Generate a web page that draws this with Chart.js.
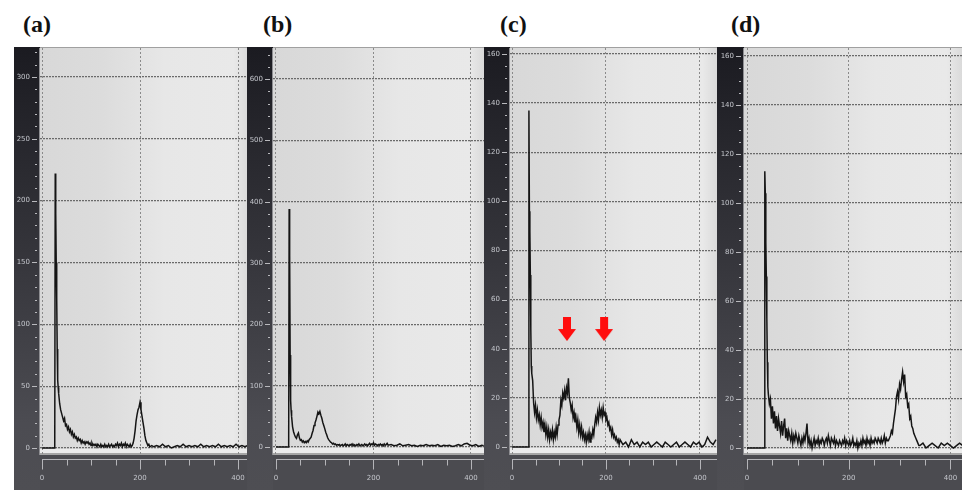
<!DOCTYPE html>
<html><head><meta charset="utf-8">
<script src="https://cdn.jsdelivr.net/npm/chart.js@4/dist/chart.umd.min.js"></script>
<style>
html,body{margin:0;padding:0;background:#fff;width:962px;height:490px;overflow:hidden;position:relative}
.panel{position:absolute;top:47px;height:443px}
.panel canvas{display:block}
.title{position:absolute;top:12px;font:bold 24px "Liberation Serif",serif;color:#111;line-height:25px}
</style></head><body>
<div class="title" style="left:23px">(a)</div>
<div class="title" style="left:263px">(b)</div>
<div class="title" style="left:500px">(c)</div>
<div class="title" style="left:731px">(d)</div>
<div class="panel" style="left:14px;width:234px"><canvas id="ca" width="234" height="443"></canvas></div>
<div class="panel" style="left:247px;width:237px"><canvas id="cb" width="237" height="443"></canvas></div>
<div class="panel" style="left:484px;width:233px"><canvas id="cc" width="233" height="443"></canvas></div>
<div class="panel" style="left:717px;width:245px"><canvas id="cd" width="245" height="443"></canvas></div>
<script>
// ---- data ----
const xTicks = [0, 200, 400];
const xMinorTicks = [0, 50, 100, 150, 200, 250, 300, 350, 400];

const yTicksA = [0, 50, 100, 150, 200, 250, 300];
const yTicksB = [0, 100, 200, 300, 400, 500, 600];
const yTicksC = [0, 20, 40, 60, 80, 100, 120, 140, 160];
const yTicksD = [0, 20, 40, 60, 80, 100, 120, 140, 160];

const xsA = [0,26,27,28,29,30,31,32,33,34,
  36,38,40,42,44,46,48,50,52,54,
  56,58,60,62,64,66,68,70,72,74,
  76,78,80,82,84,86,88,90,92,94,
  96,98,100,102,104,106,108,110,112,114,
  116,118,120,122,124,126,128,130,132,134,
  136,138,140,142,144,146,148,150,152,154,
  156,158,160,162,164,166,168,170,172,174,
  176,178,180,182,184,186,188,190,192,194,
  196,198,200,202,204,206,208,210,212,214,
  216,218,220,224,228,234,240,246,252,258,
  264,270,276,282,288,294,300,306,312,318,
  324,330,336,342,348,354,360,366,372,378,
  384,390,396,402,408,414,420];
const ysA = [0,0,222,190,150,121,80,55,49,44,
  36,31,28,25,22,24,18,19,15,17,
  13,15,11,13,9,11,8,9,6,8,
  6,7,4,6,4,5,3,5,4,5,
  3,4,2,4,2,3,2,3,1,3,
  2,1,3,1,2,1,3,1,2,1,
  3,1,2,3,1,2,1,3,2,4,
  1,3,2,4,1,3,2,4,1,3,
  2,1,3,1,2,4,8,14,22,27,
  31,33,37,31,26,21,16,10,6,4,
  2,3,1,2,1,2,1,3,1,2,
  0,1,2,1,3,1,2,1,2,1,
  3,1,2,1,2,1,3,1,2,1,
  2,1,3,1,2,1,2];

const xsB = [0,26,27,28,29,30,31,32,34,36,
  38,40,42,44,46,48,50,52,54,56,
  58,60,62,64,66,68,70,72,74,76,
  78,80,82,84,86,88,90,92,94,96,
  98,100,102,104,106,108,110,112,114,116,
  118,120,122,124,126,128,130,132,134,136,
  138,140,142,144,146,148,150,152,154,156,
  158,160,162,164,166,168,170,172,174,176,
  178,180,182,184,186,188,190,192,194,196,
  198,200,202,204,206,208,210,212,214,216,
  218,220,222,224,226,228,230,236,242,248,
  254,260,266,272,278,284,290,296,302,308,
  314,320,326,332,338,344,350,356,362,368,
  374,380,386,392,398,404,410,416,422,426];
const ysB = [0,0,388,313,150,76,60,50,33,25,
  20,16,14,20,23,15,11,12,8,10,
  7,9,7,10,8,12,14,16,22,27,
  35,39,44,50,57,54,58,52,47,40,
  35,30,24,20,15,12,10,8,7,5,
  6,4,5,3,4,3,4,2,3,4,
  2,3,5,2,4,3,2,4,3,5,
  2,4,3,2,4,3,5,2,3,4,
  2,3,5,3,4,2,4,6,3,5,
  4,7,3,5,4,2,4,3,5,3,
  4,2,5,3,4,6,3,4,2,3,
  5,2,3,4,2,3,1,3,2,4,
  2,3,2,4,1,3,2,3,1,2,
  4,2,5,6,3,2,4,1,3,2];

const xsC = [0,35,36,37,38,39,40,41,42,44,
  46,48,50,52,54,56,58,60,62,64,
  66,68,70,72,74,76,78,80,82,84,
  86,88,90,92,94,96,98,100,102,104,
  106,108,110,112,114,116,118,120,122,124,
  126,128,130,132,134,136,138,140,142,144,
  146,148,150,152,154,156,158,160,162,164,
  166,168,170,172,174,176,178,180,182,184,
  186,188,190,192,194,196,198,200,202,204,
  206,208,210,212,214,216,218,220,222,224,
  226,228,230,236,242,248,254,260,266,272,
  278,284,290,296,302,308,314,320,326,332,
  338,344,350,356,362,368,374,380,386,392,
  398,404,410,416,422,428,434];
const ysC = [0,0,137,96,88,70,48,33,30,27,
  18,14,17,12,15,11,13,9,12,8,
  10,6,9,5,8,4,7,3,6,4,
  7,3,6,4,8,5,9,11,13,19,
  17,22,20,23,19,24,22,28,20,18,
  15,17,12,14,10,12,8,11,6,9,
  5,8,4,6,3,5,2,5,3,6,
  2,5,4,7,5,9,12,10,14,11,
  16,13,15,12,16,13,14,11,12,9,
  10,7,8,5,7,4,5,3,4,2,
  3,1,3,1,2,0,3,1,2,0,
  2,1,2,0,1,2,1,0,2,1,
  0,1,2,0,1,2,1,0,2,1,
  2,0,1,4,2,1,3];

const xsD = [0,34,35,36,37,38,39,40,41,42,
  44,46,48,50,52,54,56,58,60,62,
  64,66,68,70,72,74,76,78,80,82,
  84,86,88,90,92,94,96,98,100,102,
  104,106,108,110,112,114,116,118,120,122,
  124,126,128,130,132,134,136,138,140,142,
  144,146,148,150,152,154,156,158,160,162,
  164,166,168,170,172,174,176,178,180,182,
  184,186,188,190,192,194,196,198,200,202,
  204,206,208,210,212,214,216,218,220,222,
  224,226,228,230,232,234,236,238,240,242,
  244,246,248,250,252,254,256,258,260,262,
  264,266,268,270,272,274,276,278,280,282,
  284,286,288,290,292,294,296,298,300,302,
  304,306,308,310,312,314,316,318,320,322,
  324,326,328,330,332,334,336,338,340,346,
  352,358,364,370,376,382,388,394,400,406,
  412,418,424];
const ysD = [0,0,113,104,84,70,53,35,25,22,
  18,20,12,17,10,15,8,13,7,12,
  9,6,11,5,9,12,4,8,3,7,
  5,3,6,2,5,3,6,4,2,5,
  3,1,4,2,5,3,6,10,2,4,
  1,3,0,2,4,1,3,2,4,1,
  3,2,4,3,1,3,4,2,5,3,
  1,4,3,2,4,1,3,2,1,3,
  2,1,3,2,4,1,3,2,1,3,
  1,2,4,1,2,1,3,0,2,1,
  3,1,4,2,3,1,4,2,3,1,
  4,2,3,2,4,3,2,4,3,2,
  4,2,3,5,2,4,3,3,4,5,
  7,6,10,13,16,21,23,20,26,24,
  28,31,27,30,21,22,17,18,12,13,
  9,8,6,5,4,3,2,1,1,2,
  0,1,2,1,0,2,1,2,1,0,
  1,2,1];

// red arrows in panel (c)
const arrowX = [117, 196];
const arrowY = [48, 48];

// ---- drawing ----
const arrowImg = document.createElement('canvas');
arrowImg.width = 18; arrowImg.height = 24;
(function(){
  const g = arrowImg.getContext('2d');
  g.fillStyle = '#ff0d0d';
  g.fillRect(5, 0, 8, 13);
  g.beginPath(); g.moveTo(0, 12); g.lineTo(18, 12); g.lineTo(9, 24); g.closePath(); g.fill();
})();

const decor = {
  id: 'decor',
  beforeDraw(chart, args, o) {
    const ctx = chart.ctx, ca = chart.chartArea, W = chart.width, H = chart.height;
    const ys = chart.scales.y;
    ctx.save();
    let g = ctx.createLinearGradient(0, 0, 0, H);
    g.addColorStop(0, '#1b1b21'); g.addColorStop(0.45, '#34343a'); g.addColorStop(0.85, '#4c4c52'); g.addColorStop(1, '#4e4e53');
    ctx.fillStyle = g; ctx.fillRect(0, 0, ca.left, H);
    ctx.fillStyle = '#4b4b50'; ctx.fillRect(ca.left, ca.bottom, W - ca.left, H - ca.bottom);
    g = ctx.createLinearGradient(ca.left, 0, ca.right, 0);
    g.addColorStop(0, '#d8d8d8'); g.addColorStop(0.3, '#dcdcdc'); g.addColorStop(0.6, '#e7e7e7');
    g.addColorStop(0.93, '#e9e9e9'); g.addColorStop(1, '#dadada');
    ctx.fillStyle = g; ctx.fillRect(ca.left, ca.top, ca.right - ca.left, ca.bottom - ca.top);
    const y0 = ys.getPixelForValue(0);
    ctx.fillStyle = '#ececec'; ctx.fillRect(ca.left, y0 + 1, ca.right - ca.left, ca.bottom - y0 - 3);
    ctx.fillStyle = '#a6a6a6'; ctx.fillRect(ca.left, ca.bottom - 2, ca.right - ca.left, 2);
    ctx.fillStyle = '#a0a0a0'; ctx.fillRect(ca.left, ca.top - 1, ca.right - ca.left, 1);
    ctx.restore();
  },
  afterDraw(chart, args, o) {
    const ctx = chart.ctx, ca = chart.chartArea;
    const xs = chart.scales.x, ys = chart.scales.y;
    ctx.save();
    ctx.strokeStyle = '#b9b9bd'; ctx.lineWidth = 1;
    for (let v = 0; v <= ys.max; v += o.yMinor) {
      const y = Math.round(ys.getPixelForValue(v)) + 0.5;
      const major = o.yTicks.includes(v);
      ctx.beginPath(); ctx.moveTo(ca.left - (major ? 8 : 5), y); ctx.lineTo(ca.left - 3, y); ctx.stroke();
    }
    ctx.strokeStyle = '#8e8e92';
    ctx.beginPath(); ctx.moveTo(ca.left - 0.5, ca.top); ctx.lineTo(ca.left - 0.5, ca.bottom); ctx.stroke();
    ctx.strokeStyle = '#b4b4b8';
    const yb = ca.bottom + 4.5;
    ctx.beginPath(); ctx.moveTo(xs.getPixelForValue(0), yb); ctx.lineTo(ca.right, yb); ctx.stroke();
    xMinorTicks.forEach(v => {
      const x = Math.round(xs.getPixelForValue(v)) + 0.5;
      const major = xTicks.includes(v);
      ctx.beginPath(); ctx.moveTo(x, yb); ctx.lineTo(x, yb + (major ? 10 : 6)); ctx.stroke();
    });
    ctx.restore();
  }
};

function makeChart(id, xsArr, ysArr, yTicks, yMinor, xMin, xMax, yMin, yMax, strip, extra) {
  const datasets = [{
    data: xsArr.map((x, i) => ({x, y: ysArr[i]})),
    borderColor: '#151515', borderWidth: 1.5, pointRadius: 0, tension: 0, fill: false, order: 2
  }];
  if (extra) datasets.push(extra);
  new Chart(document.getElementById(id), {
    type: 'line',
    data: {datasets},
    plugins: [decor],
    options: {
      responsive: false, animation: false, devicePixelRatio: 1,
      layout: {padding: {top: 1, left: 0, right: 0, bottom: 0}, autoPadding: false},
      plugins: {legend: {display: false}, tooltip: {enabled: false}, decor: {yMinor, yTicks}},
      scales: {
        x: {
          type: 'linear', min: xMin, max: xMax, offset: false,
          afterBuildTicks: s => { s.ticks = xTicks.map(v => ({value: v})); },
          afterFit: s => { s.height = 35; s.paddingLeft = 0; s.paddingRight = 0; },
          grid: {color: '#8a8a8a', lineWidth: 1, drawTicks: true, tickLength: 19, tickColor: 'rgba(0,0,0,0)'},
          border: {display: false, dash: [2, 2]},
          ticks: {color: '#c4c6cc', font: {family: 'DejaVu Sans', size: 7}, padding: 0, maxRotation: 0, autoSkip: false,
            callback: v => String(v)}
        },
        y: {
          type: 'linear', min: yMin, max: yMax,
          afterBuildTicks: s => { s.ticks = yTicks.map(v => ({value: v})); },
          afterFit: s => { s.width = strip; s.paddingTop = 0; s.paddingBottom = 0; },
          grid: {color: '#6a6a6a', lineWidth: 1.3, drawTicks: true, tickLength: 10, tickColor: 'rgba(0,0,0,0)'},
          border: {display: false, dash: [2, 1]},
          ticks: {color: '#c4c6cc', font: {family: 'DejaVu Sans', size: 7}, padding: 0, autoSkip: false,
            callback: v => String(v)}
        }
      }
    }
  });
}

makeChart('ca', xsA, ysA, yTicksA, 10, -4.1, 420.4, -5.66, 323.4, 26);
makeChart('cb', xsB, ysB, yTicksB, 20, -6.15, 426.7, -13, 650.6, 26);
makeChart('cc', xsC, ysC, yTicksC, 5, -4.26, 436.2, -3.26, 162.4, 26, {
  type: 'scatter', data: arrowX.map((x, i) => ({x, y: arrowY[i]})),
  pointStyle: arrowImg, pointRadius: 12, showLine: false, borderWidth: 0, order: 1
});
makeChart('cd', xsD, ysD, yTicksD, 5, -5.9, 422.8, -2.86, 163.3, 27);
</script>
</body></html>
